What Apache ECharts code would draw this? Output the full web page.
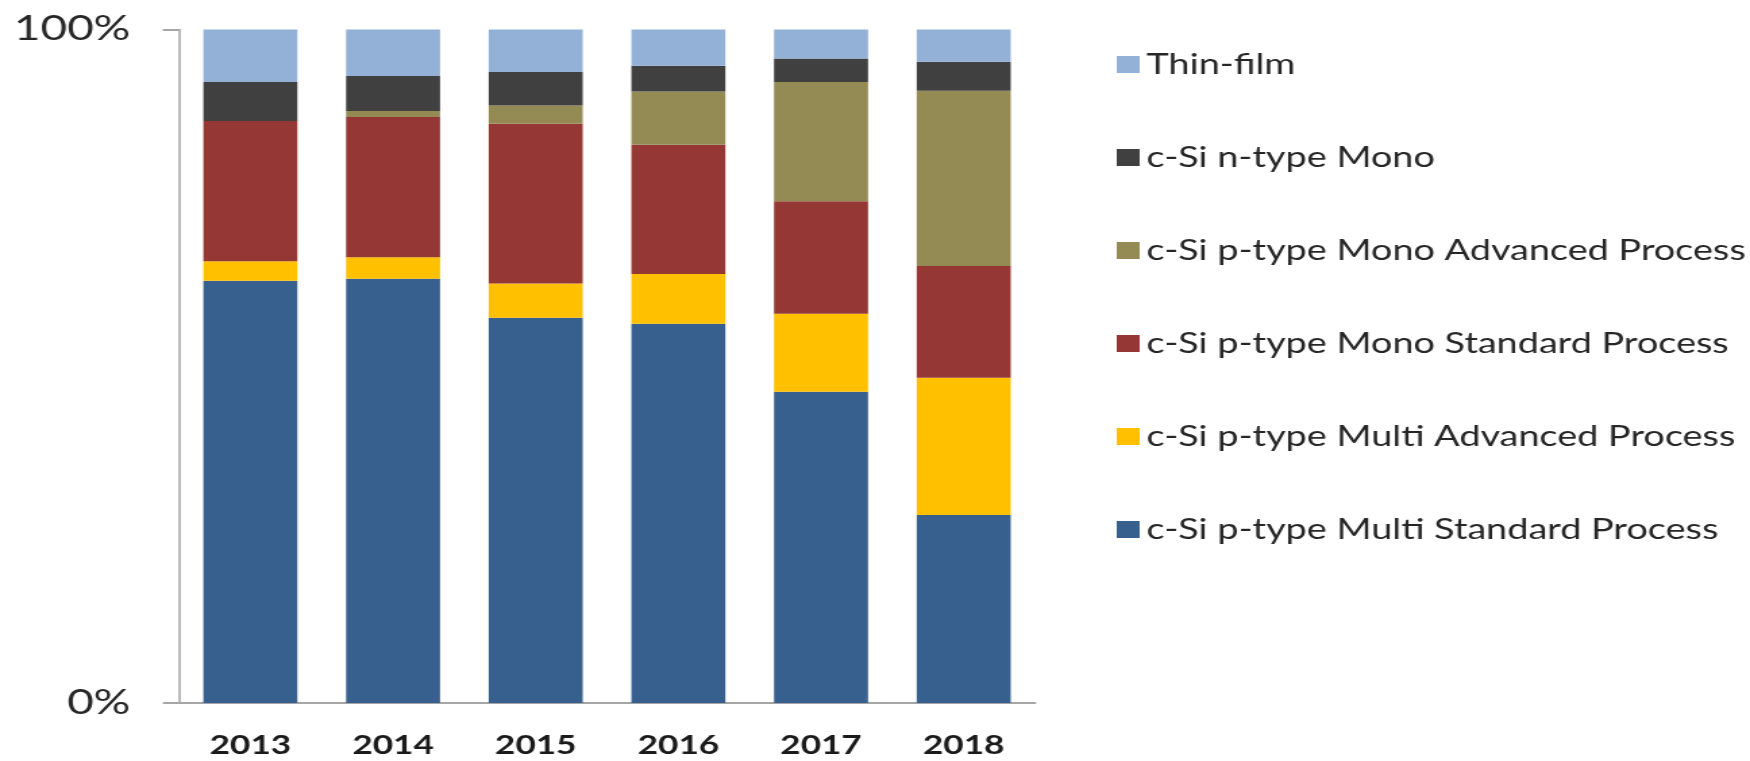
<!DOCTYPE html>
<html>
<head>
<meta charset="utf-8">
<script src="https://cdn.jsdelivr.net/npm/echarts@6/dist/echarts.min.js"></script>
<style>
html,body{margin:0;padding:0;background:#fff;overflow:hidden;}
#wrap{width:1750px;height:761px;overflow:hidden;}
#chart{width:1296px;height:761px;transform:scaleX(1.35031);transform-origin:0 0;}
</style>
</head>
<body>
<div id="wrap"><div id="chart"></div></div>
<script>
const years = ['2013', '2014', '2015', '2016', '2017', '2018'];
const yTicks = [0, 100];

const multiStd = [62.7, 63.0, 57.2, 56.3, 46.2, 27.9];
const multiAdv = [2.9, 3.2, 5.1, 7.4, 11.6, 20.4];
const monoStd  = [20.8, 20.8, 23.7, 19.2, 16.7, 16.6];
const monoAdv  = [0, 0.9, 2.7, 7.9, 17.7, 26.0];
const nMono    = [5.8, 5.2, 5.0, 3.8, 3.5, 4.3];
const thinFilm = [7.8, 6.9, 6.3, 5.4, 4.3, 4.8];

const names = {
  multiStd: 'c-Si p-type Multi Standard Process',
  multiAdv: 'c-Si p-type Multi Advanced Process',
  monoStd: 'c-Si p-type Mono Standard Process',
  monoAdv: 'c-Si p-type Mono Advanced Process',
  nMono: 'c-Si n-type Mono',
  thin: 'Thin-film'
};
const colors = {
  multiStd: '#38608F',
  multiAdv: '#FFC000',
  monoStd: '#953735',
  monoAdv: '#948A54',
  nMono: '#404040',
  thin: '#93B1D6'
};

const seriesDefs = [
  ['multiStd', multiStd],
  ['multiAdv', multiAdv],
  ['monoStd', monoStd],
  ['monoAdv', monoAdv],
  ['nMono', nMono],
  ['thin', thinFilm]
];

const font = 'Lato, "Open Sans", sans-serif';

const chart = echarts.init(document.getElementById('chart'));
chart.setOption({
  animation: false,
  backgroundColor: '#ffffff',
  grid: { left: 132.6, right: 529.5, top: 29.5, bottom: 58, containLabel: false },
  legend: {
    orient: 'vertical',
    left: 822,
    top: 44.5,
    icon: 'rect',
    itemWidth: 17,
    itemHeight: 17,
    itemGap: 63,
    itemTextGap: 8,
    selectedMode: false,
    data: [names.thin, names.nMono, names.monoAdv, names.monoStd, names.multiAdv, names.multiStd],
    textStyle: { fontFamily: font, fontSize: 28, color: '#262626', lineHeight: 30 }
  },
  xAxis: {
    type: 'category',
    data: years,
    axisLine: { lineStyle: { color: '#A6A6A6', width: 2 } },
    axisTick: { show: false },
    axisLabel: { fontFamily: font, fontSize: 26, fontWeight: 'bold', color: '#1a1a1a', margin: 30 }
  },
  yAxis: {
    type: 'value',
    min: yTicks[0],
    max: yTicks[yTicks.length - 1],
    interval: 100,
    axisLine: { show: true, lineStyle: { color: '#A6A6A6', width: 1.5 } },
    axisTick: { show: true, length: 12, lineStyle: { color: '#A6A6A6', width: 2 } },
    splitLine: { show: false },
    axisLabel: { fontFamily: font, fontSize: 34, color: '#262626', margin: 36, formatter: '{value}%' }
  },
  series: seriesDefs.map(([key, arr]) => ({
    name: names[key],
    type: 'bar',
    stack: 'total',
    barWidth: 69.6,
    itemStyle: { color: colors[key] },
    data: arr
  }))
});
</script>
</body>
</html>
